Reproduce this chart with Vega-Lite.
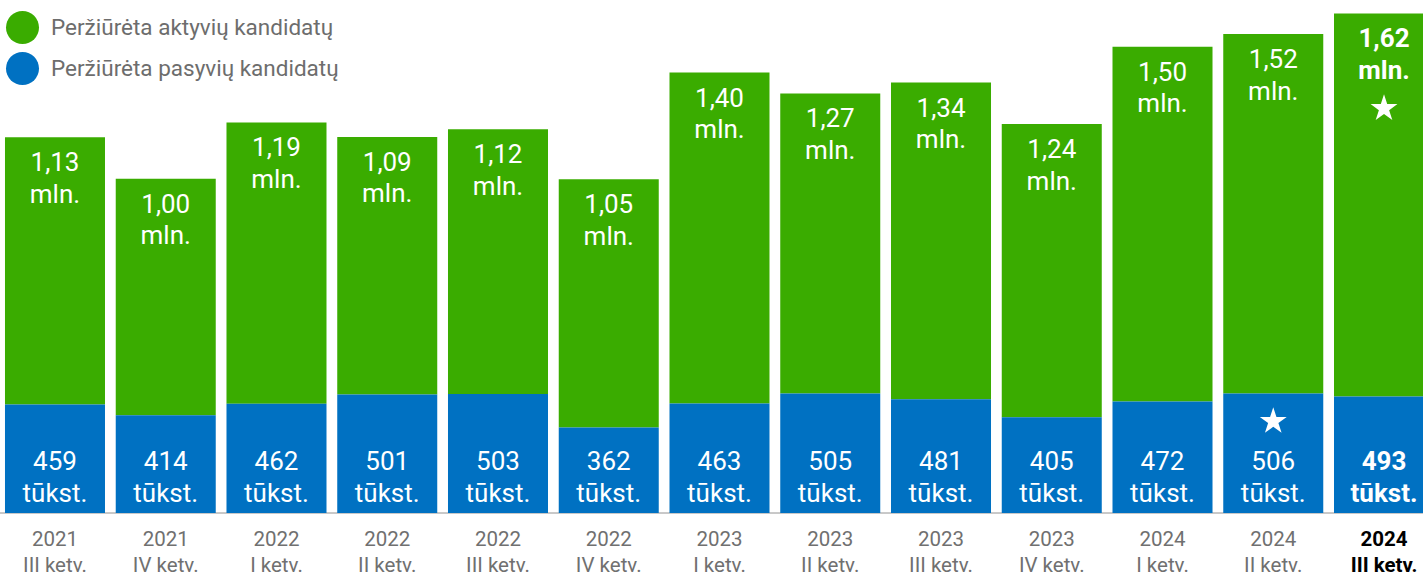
{
  "$schema": "https://vega.github.io/schema/vega-lite/v6.json",
  "width": 1423,
  "height": 513,
  "autosize": "none",
  "padding": {"left": 0, "top": 0, "right": 0, "bottom": 61},
  "background": "white",
  "config": {
    "view": {"stroke": null},
    "font": "Roboto"
  },
  "data": {
    "values": [
      {"period": "2021\nIII ketv.", "type": "Peržiūrėta aktyvių kandidatų", "value": 1130, "label": "1,13\nmln."},
      {"period": "2021\nIII ketv.", "type": "Peržiūrėta pasyvių kandidatų", "value": 459, "label": "459\ntūkst."},
      {"period": "2021\nIV ketv.", "type": "Peržiūrėta aktyvių kandidatų", "value": 1000, "label": "1,00\nmln."},
      {"period": "2021\nIV ketv.", "type": "Peržiūrėta pasyvių kandidatų", "value": 414, "label": "414\ntūkst."},
      {"period": "2022\nI ketv.", "type": "Peržiūrėta aktyvių kandidatų", "value": 1190, "label": "1,19\nmln."},
      {"period": "2022\nI ketv.", "type": "Peržiūrėta pasyvių kandidatų", "value": 462, "label": "462\ntūkst."},
      {"period": "2022\nII ketv.", "type": "Peržiūrėta aktyvių kandidatų", "value": 1090, "label": "1,09\nmln."},
      {"period": "2022\nII ketv.", "type": "Peržiūrėta pasyvių kandidatų", "value": 501, "label": "501\ntūkst."},
      {"period": "2022\nIII ketv.", "type": "Peržiūrėta aktyvių kandidatų", "value": 1120, "label": "1,12\nmln."},
      {"period": "2022\nIII ketv.", "type": "Peržiūrėta pasyvių kandidatų", "value": 503, "label": "503\ntūkst."},
      {"period": "2022\nIV ketv.", "type": "Peržiūrėta aktyvių kandidatų", "value": 1050, "label": "1,05\nmln."},
      {"period": "2022\nIV ketv.", "type": "Peržiūrėta pasyvių kandidatų", "value": 362, "label": "362\ntūkst."},
      {"period": "2023\nI ketv.", "type": "Peržiūrėta aktyvių kandidatų", "value": 1400, "label": "1,40\nmln."},
      {"period": "2023\nI ketv.", "type": "Peržiūrėta pasyvių kandidatų", "value": 463, "label": "463\ntūkst."},
      {"period": "2023\nII ketv.", "type": "Peržiūrėta aktyvių kandidatų", "value": 1270, "label": "1,27\nmln."},
      {"period": "2023\nII ketv.", "type": "Peržiūrėta pasyvių kandidatų", "value": 505, "label": "505\ntūkst."},
      {"period": "2023\nIII ketv.", "type": "Peržiūrėta aktyvių kandidatų", "value": 1340, "label": "1,34\nmln."},
      {"period": "2023\nIII ketv.", "type": "Peržiūrėta pasyvių kandidatų", "value": 481, "label": "481\ntūkst."},
      {"period": "2023\nIV ketv.", "type": "Peržiūrėta aktyvių kandidatų", "value": 1240, "label": "1,24\nmln."},
      {"period": "2023\nIV ketv.", "type": "Peržiūrėta pasyvių kandidatų", "value": 405, "label": "405\ntūkst."},
      {"period": "2024\nI ketv.", "type": "Peržiūrėta aktyvių kandidatų", "value": 1500, "label": "1,50\nmln."},
      {"period": "2024\nI ketv.", "type": "Peržiūrėta pasyvių kandidatų", "value": 472, "label": "472\ntūkst."},
      {"period": "2024\nII ketv.", "type": "Peržiūrėta aktyvių kandidatų", "value": 1520, "label": "1,52\nmln."},
      {"period": "2024\nII ketv.", "type": "Peržiūrėta pasyvių kandidatų", "value": 506, "label": "506\ntūkst.", "star": true},
      {"period": "2024\nIII ketv.", "type": "Peržiūrėta aktyvių kandidatų", "value": 1620, "label": "1,62\nmln.", "star": true},
      {"period": "2024\nIII ketv.", "type": "Peržiūrėta pasyvių kandidatų", "value": 493, "label": "493\ntūkst."}
    ]
  },
  "transform": [
    {"stack": "value", "groupby": ["period"], "sort": [{"field": "type", "order": "descending"}], "as": ["v0", "v1"]}
  ],
  "layer": [
    {
      "mark": {"type": "rule", "color": "#c8c8c8", "strokeWidth": 1},
      "encoding": {
        "y": {"datum": 0, "type": "quantitative", "scale": {"domain": [0, 2170], "nice": false}, "axis": null}
      }
    },
    {
      "mark": {"type": "bar"},
      "encoding": {
        "x": {
          "field": "period",
          "type": "nominal",
          "sort": null,
          "scale": {"range": [0, 1439], "paddingInner": 0.097, "paddingOuter": 0.045},
          "axis": null
        },
        "y": {"field": "v0", "type": "quantitative", "axis": null},
        "y2": {"field": "v1"},
        "color": {
          "field": "type",
          "type": "nominal",
          "scale": {
            "domain": ["Peržiūrėta aktyvių kandidatų", "Peržiūrėta pasyvių kandidatų"],
            "range": ["#3aac00", "#0071c2"]
          },
          "legend": {
            "title": null,
            "orient": "none",
            "legendX": 6,
            "legendY": 11,
            "symbolType": "circle",
            "symbolSize": 1089,
            "symbolStrokeWidth": 0,
            "symbolOpacity": 1,
            "labelFont": "Roboto",
            "labelFontSize": 22.5,
            "labelColor": "#6d6d6d",
            "labelLimit": 600,
            "labelOffset": 12,
            "rowPadding": 8
          }
        }
      }
    },
    {
      "transform": [{"filter": "datum.type == 'Peržiūrėta aktyvių kandidatų'"}],
      "mark": {
        "type": "text",
        "color": "white",
        "font": "Roboto",
        "fontSize": 26,
        "lineHeight": 31.5,
        "lineBreak": "\n",
        "baseline": "alphabetic",
        "dy": 34,
        "fontWeight": {"expr": "datum.period == '2024\\nIII ketv.' ? 'bold' : 'normal'"}
      },
      "encoding": {
        "x": {"field": "period", "type": "nominal", "sort": null, "axis": null},
        "y": {"field": "v1", "type": "quantitative", "axis": null},
        "text": {"field": "label"}
      }
    },
    {
      "transform": [{"filter": "datum.type == 'Peržiūrėta pasyvių kandidatų'"}],
      "mark": {
        "type": "text",
        "color": "white",
        "font": "Roboto",
        "fontSize": 26,
        "lineHeight": 32,
        "lineBreak": "\n",
        "baseline": "alphabetic",
        "dy": -43,
        "fontWeight": {"expr": "datum.period == '2024\\nIII ketv.' ? 'bold' : 'normal'"}
      },
      "encoding": {
        "x": {"field": "period", "type": "nominal", "sort": null, "axis": null},
        "y": {"datum": 0, "type": "quantitative", "axis": null},
        "text": {"field": "label"}
      }
    },
    {
      "transform": [{"filter": "datum.type == 'Peržiūrėta pasyvių kandidatų'"}],
      "mark": {
        "type": "text",
        "font": "Roboto",
        "fontSize": 20.5,
        "lineHeight": 26,
        "lineBreak": "\n",
        "baseline": "alphabetic",
        "dy": 33,
        "color": {"expr": "datum.period == '2024\\nIII ketv.' ? '#000000' : '#707070'"},
        "fontWeight": {"expr": "datum.period == '2024\\nIII ketv.' ? 'bold' : 'normal'"}
      },
      "encoding": {
        "x": {"field": "period", "type": "nominal", "sort": null, "axis": null},
        "y": {"datum": 0, "type": "quantitative", "axis": null},
        "text": {"field": "period"}
      }
    },
    {
      "transform": [{"filter": "datum.star == true"}],
      "mark": {
        "type": "point",
        "shape": "M0,-1L0.2245,-0.309L0.951,-0.309L0.363,0.118L0.588,0.809L0,0.382L-0.588,0.809L-0.363,0.118L-0.951,-0.309L-0.2245,-0.309Z",
        "filled": true,
        "color": "white",
        "opacity": 1,
        "size": 800,
        "yOffset": {"expr": "datum.type == 'Peržiūrėta aktyvių kandidatų' ? 95 : 28"}
      },
      "encoding": {
        "x": {"field": "period", "type": "nominal", "sort": null, "axis": null},
        "y": {"field": "v1", "type": "quantitative", "axis": null}
      }
    }
  ]
}
